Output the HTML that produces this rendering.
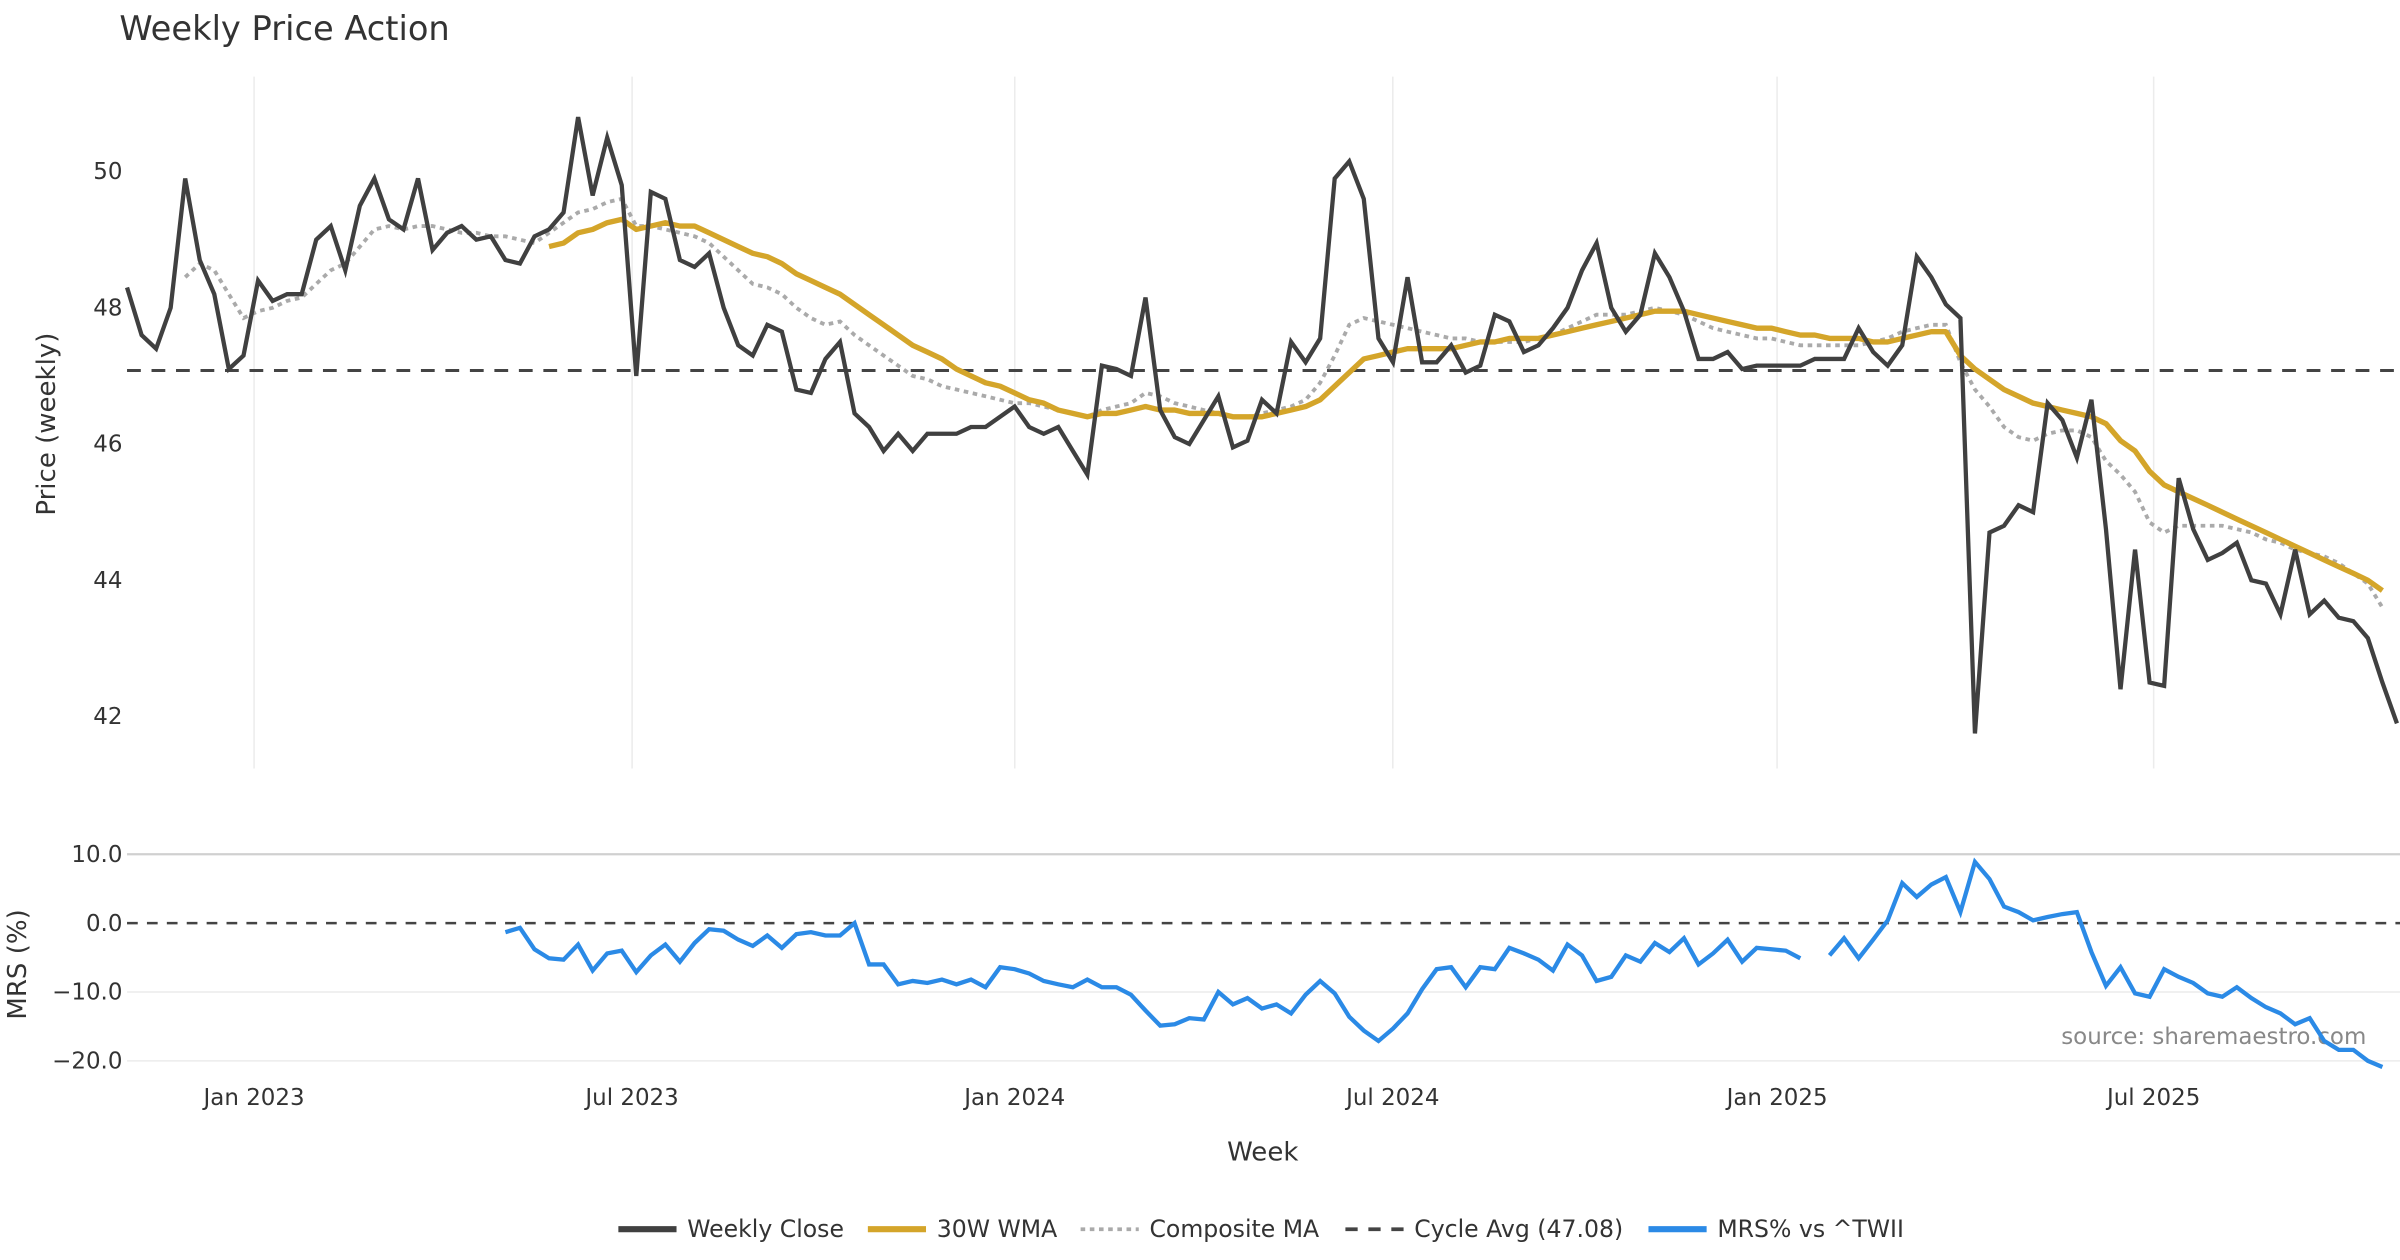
<!DOCTYPE html>
<html><head><meta charset="utf-8"><style>
html,body{margin:0;padding:0;background:#fff;}
svg{display:block;font-family:"DejaVu Sans","Liberation Sans",sans-serif;}
</style></head><body>
<svg id="chart" width="2400" height="1260" viewBox="0 0 1568 823" xmlns="http://www.w3.org/2000/svg">
<rect width="1568" height="823" fill="#fff"/>
<text x="78" y="26" font-size="22" fill="#333">Weekly Price Action</text>
<text transform="translate(36,277) rotate(-90)" text-anchor="middle" font-size="17" fill="#333">Price (weekly)</text>
<text transform="translate(17,630) rotate(-90)" text-anchor="middle" font-size="17" fill="#333">MRS (%)</text>
<text x="825" y="758" text-anchor="middle" font-size="17" fill="#333">Week</text>
<text x="1546" y="682" text-anchor="end" font-size="15" fill="#888">source: sharemaestro.com</text>
<g id="grid"></g><g id="marks"></g><g id="legend"></g>
</svg>
<script>
const priceTicks=[50,48,46,44,42];
const mrsTicks=[10,0,-10,-20];
const xTickLabels=["Jan 2023","Jul 2023","Jan 2024","Jul 2024","Jan 2025","Jul 2025"];
const xTickWeeks=[8.73,34.71,61.01,86.99,113.4,139.28];
const cycleAvg=47.08;
const close=[48.3,47.6,47.4,48.0,49.9,48.7,48.2,47.1,47.3,48.4,48.1,48.2,48.2,49.0,49.2,48.55,49.5,49.9,49.3,49.15,49.9,48.85,49.1,49.2,49.0,49.05,48.7,48.65,49.05,49.15,49.4,50.8,49.65,50.5,49.8,47.0,49.7,49.6,48.7,48.6,48.8,48.0,47.45,47.3,47.75,47.65,46.8,46.75,47.25,47.5,46.45,46.25,45.9,46.15,45.9,46.15,46.15,46.15,46.25,46.25,46.4,46.55,46.25,46.15,46.25,45.9,45.55,47.15,47.1,47.0,48.15,46.5,46.1,46.0,46.35,46.7,45.95,46.05,46.65,46.45,47.5,47.2,47.55,49.9,50.15,49.6,47.55,47.2,48.45,47.2,47.2,47.45,47.05,47.15,47.9,47.8,47.35,47.45,47.7,48.0,48.55,48.95,48.0,47.65,47.9,48.8,48.45,47.95,47.25,47.25,47.35,47.1,47.15,47.15,47.15,47.15,47.25,47.25,47.25,47.7,47.35,47.15,47.45,48.75,48.45,48.05,47.85,41.75,44.7,44.8,45.1,45.0,46.6,46.35,45.8,46.65,44.75,42.4,44.45,42.5,42.45,45.5,44.75,44.3,44.4,44.55,44.0,43.95,43.5,44.45,43.5,43.7,43.45,43.4,43.15,42.5,41.9];
const wma=[null,null,null,null,null,null,null,null,null,null,null,null,null,null,null,null,null,null,null,null,null,null,null,null,null,null,null,null,null,48.9,48.95,49.1,49.15,49.25,49.3,49.15,49.2,49.25,49.2,49.2,49.1,49.0,48.9,48.8,48.75,48.65,48.5,48.4,48.3,48.2,48.05,47.9,47.75,47.6,47.45,47.35,47.25,47.1,47.0,46.9,46.85,46.75,46.65,46.6,46.5,46.45,46.4,46.45,46.45,46.5,46.55,46.5,46.5,46.45,46.45,46.45,46.4,46.4,46.4,46.45,46.5,46.55,46.65,46.85,47.05,47.25,47.3,47.35,47.4,47.4,47.4,47.4,47.45,47.5,47.5,47.55,47.55,47.55,47.6,47.65,47.7,47.75,47.8,47.85,47.9,47.95,47.95,47.95,47.9,47.85,47.8,47.75,47.7,47.7,47.65,47.6,47.6,47.55,47.55,47.55,47.5,47.5,47.55,47.6,47.65,47.65,47.3,47.1,46.95,46.8,46.7,46.6,46.55,46.5,46.45,46.4,46.3,46.05,45.9,45.6,45.4,45.3,45.2,45.1,45.0,44.9,44.8,44.7,44.6,44.5,44.4,44.3,44.2,44.1,44.0,43.85];
const compositeMa=[null,null,null,null,48.45,48.65,48.55,48.2,47.85,47.95,48.0,48.1,48.15,48.35,48.55,48.65,48.9,49.15,49.2,49.15,49.2,49.2,49.15,49.1,49.1,49.05,49.05,49.0,48.95,49.1,49.25,49.4,49.45,49.55,49.6,49.2,49.2,49.15,49.1,49.05,48.95,48.75,48.55,48.35,48.3,48.2,48.0,47.85,47.75,47.8,47.6,47.45,47.3,47.15,47.0,46.95,46.85,46.8,46.75,46.7,46.65,46.6,46.6,46.55,46.5,46.45,46.4,46.5,46.55,46.6,46.75,46.7,46.6,46.55,46.5,46.45,46.4,46.4,46.45,46.5,46.55,46.65,46.9,47.3,47.75,47.85,47.8,47.75,47.7,47.65,47.6,47.55,47.55,47.5,47.5,47.5,47.5,47.55,47.6,47.7,47.8,47.9,47.9,47.9,47.95,48.0,47.95,47.9,47.8,47.7,47.65,47.6,47.55,47.55,47.5,47.45,47.45,47.45,47.45,47.45,47.5,47.55,47.65,47.7,47.75,47.75,47.2,46.8,46.55,46.25,46.1,46.05,46.15,46.2,46.2,46.1,45.75,45.55,45.3,44.85,44.7,44.8,44.8,44.8,44.8,44.75,44.7,44.6,44.55,44.45,44.4,44.35,44.25,44.1,43.95,43.6];
const mrs=[null,null,null,null,null,null,null,null,null,null,null,null,null,null,null,null,null,null,null,null,null,null,null,null,null,null,-1.3,-0.7,-3.8,-5.1,-5.3,-3.1,-6.9,-4.4,-4.0,-7.1,-4.7,-3.1,-5.6,-2.9,-0.9,-1.1,-2.4,-3.3,-1.8,-3.6,-1.6,-1.3,-1.8,-1.8,0,-6.0,-6.0,-8.9,-8.4,-8.7,-8.2,-8.9,-8.2,-9.3,-6.4,-6.7,-7.3,-8.4,-8.9,-9.3,-8.2,-9.3,-9.3,-10.4,-12.7,-14.9,-14.7,-13.8,-14.0,-10.0,-11.8,-10.9,-12.4,-11.8,-13.1,-10.4,-8.4,-10.2,-13.6,-15.6,-17.1,-15.3,-13.1,-9.6,-6.7,-6.4,-9.3,-6.4,-6.7,-3.6,-4.4,-5.3,-6.9,-3.1,-4.7,-8.4,-7.8,-4.7,-5.6,-2.9,-4.2,-2.2,-6.0,-4.4,-2.4,-5.6,-3.6,-3.8,-4.0,-5.1,null,-4.7,-2.2,-5.1,-2.4,0.4,5.8,3.8,5.6,6.7,1.6,8.9,6.4,2.4,1.6,0.4,0.9,1.3,1.6,-4.2,-9.1,-6.4,-10.2,-10.7,-6.7,-7.8,-8.7,-10.2,-10.7,-9.3,-10.9,-12.2,-13.1,-14.7,-13.8,-17.1,-18.4,-18.4,-20.0,-20.9];

const NS="http://www.w3.org/2000/svg";
const N=close.length;
const X0=83,X1=1566;
function xs(i){return X0+(X1-X0)*i/(N-1);}
function yp(v){return 112+(50-v)*44.5;}
function ym(v){return 603-v*4.5;}
function mk(tag,attrs,parent){const e=document.createElementNS(NS,tag);for(const k in attrs)e.setAttribute(k,attrs[k]);parent.appendChild(e);return e;}
const grid=document.getElementById('grid'),marks=document.getElementById('marks'),legend=document.getElementById('legend');

xTickWeeks.forEach((w,k)=>{
  const x=xs(w);
  const g1=mk('line',{x1:x,x2:x,y1:50,y2:502,stroke:'#ececec','stroke-width':1},grid);
  
  
  const t=mk('text',{x:x,y:722,'text-anchor':'middle','font-size':15,fill:'#333'},grid);
  t.textContent=xTickLabels[k];
  
  
});
priceTicks.forEach(v=>{
  const t=mk('text',{x:80,y:yp(v)+5,'text-anchor':'end','font-size':15,fill:'#333'},grid);
  t.textContent=v;
  
  
});
mrsTicks.forEach(v=>{
  const y=ym(v);
  if(v!==0){const l=mk('line',{x1:83,x2:1568,y1:y,y2:y,stroke:v===10?'#d0d0d0':'#ececec','stroke-width':v===10?1.5:1},grid);
    
    }
  const t=mk('text',{x:80,y:y+5,'text-anchor':'end','font-size':15,fill:'#333'},grid);
  t.textContent=(v<0?'\u2212'+Math.abs(v).toFixed(1):v.toFixed(1));
  
  
});

function pathFrom(arr,yf){let d='',pen=false;arr.forEach((v,i)=>{if(v===null){pen=false;return;}d+=(pen?'L':'M')+xs(i).toFixed(1)+','+yf(v).toFixed(1);pen=true;});return d;}

const cyc=mk('line',{x1:83,x2:1568,y1:yp(cycleAvg),y2:yp(cycleAvg),stroke:'#444','stroke-width':2,'stroke-dasharray':'9,7'},marks);


const z=mk('line',{x1:83,x2:1568,y1:ym(0),y2:ym(0),stroke:'#444','stroke-width':1.6,'stroke-dasharray':'7,6'},marks);



const pc=mk('path',{d:pathFrom(compositeMa,yp),fill:'none',stroke:'#aaa','stroke-width':2.5,'stroke-dasharray':'3,3'},marks);


const pw=mk('path',{d:pathFrom(wma,yp),fill:'none',stroke:'#d4a52a','stroke-width':3.5,'stroke-linejoin':'round'},marks);


const pcl=mk('path',{d:pathFrom(close,yp),fill:'none',stroke:'#404040','stroke-width':2.8},marks);


const pm=mk('path',{d:pathFrom(mrs,ym),fill:'none',stroke:'#2b8ae6','stroke-width':2.8},marks);



const items=[["Weekly Close","#404040",null,404],["30W WMA","#d4a52a",null,567],["Composite MA","#aaa","3,3",706],["Cycle Avg (47.08)","#444","8,7",879],["MRS% vs ^TWII","#2b8ae6",null,1077]];
items.forEach(it=>{
  const l=mk('line',{x1:it[3],x2:it[3]+38,y1:803,y2:803,stroke:it[1],'stroke-width':it[2]?2.5:4},legend);
  if(it[2])l.setAttribute('stroke-dasharray',it[2]);
  
  
  const t=mk('text',{x:it[3]+45,y:808,'font-size':15.4,fill:'#333'},legend);
  t.textContent=it[0];
  
  
});
</script>
</body></html>
